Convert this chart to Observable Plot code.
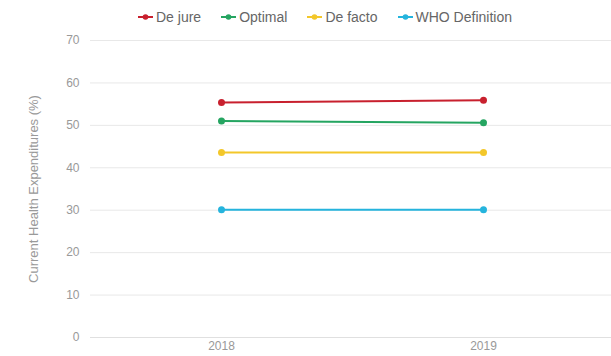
<!DOCTYPE html>
<html>
<head>
<meta charset="utf-8">
<script src="https://cdn.jsdelivr.net/npm/d3@7"></script>
<script src="https://cdn.jsdelivr.net/npm/@observablehq/plot@0.6"></script>
<style>
  html, body { margin: 0; padding: 0; background: #fff; overflow: hidden; }
  body { width: 611px; height: 356px; font-family: "Liberation Sans", Arial, sans-serif; }
  #legend { height: 30px; display: flex; align-items: center; padding-left: 138px; padding-top: 4px; box-sizing: border-box; gap: 20px; font-size: 14px; color: #666; }
  .item { display: flex; align-items: center; gap: 3px; }
  .item svg { display: block; }
</style>
</head>
<body>
<div id="legend"></div>
<div id="chart"></div>
<script>
// Share of current health expenditures under each definition
const years = ["2018", "2019"];
const seriesNames = ["De jure", "Optimal", "De facto", "WHO Definition"];
const seriesColors = ["#c8202e", "#25a561", "#f3c72a", "#25b4dd"];
const deJure = [55.4, 55.9];
const optimal = [51.0, 50.6];
const deFacto = [43.6, 43.6];
const whoDefinition = [30.1, 30.1];
const yTicks = [0, 10, 20, 30, 40, 50, 60, 70];
const yLabel = "Current Health Expenditures (%)";

const seriesValues = [deJure, optimal, deFacto, whoDefinition];
const data = seriesNames.flatMap((name, i) =>
  years.map((year, j) => ({series: name, year, value: seriesValues[i][j]}))
);

// Legend: line-and-dot marker followed by the series name
const legend = document.getElementById("legend");
seriesNames.forEach((name, i) => {
  const item = document.createElement("div");
  item.className = "item";
  item.innerHTML = `<svg width="15" height="8"><line x1="0" y1="4" x2="15" y2="4" stroke="${seriesColors[i]}" stroke-width="2"/><circle cx="7.5" cy="4" r="2.8" fill="${seriesColors[i]}"/></svg><span>${name}</span>`;
  legend.appendChild(item);
});

const chart = Plot.plot({
  width: 611,
  height: 326,
  marginTop: 10,
  marginBottom: 19,
  marginLeft: 90,
  marginRight: -3,
  style: {fontFamily: "Liberation Sans, Arial, sans-serif", fontSize: "12px", color: "#999", overflow: "visible"},
  x: {type: "point", domain: years, padding: 0.5},
  y: {domain: [0, 70]},
  color: {domain: seriesNames, range: seriesColors},
  marks: [
    Plot.gridY(yTicks, {stroke: "#e8e8e8", strokeOpacity: 1}),
    Plot.ruleY([0], {stroke: "#e0e0e0"}),
    Plot.axisY(yTicks, {tickSize: 0, tickPadding: 11, fill: "#999", label: null}),
    Plot.axisY([], {label: yLabel, labelAnchor: "center", labelArrow: false, labelOffset: 62, fontSize: 13, fill: "#999"}),
    Plot.axisX(years, {tickSize: 0, tickPadding: 4, fill: "#999", fontSize: 12, label: null}),
    Plot.line(data, {x: "year", y: "value", z: "series", stroke: "series", strokeWidth: 2}),
    Plot.dot(data, {x: "year", y: "value", fill: "series", r: 3.5})
  ]
});
document.getElementById("chart").appendChild(chart);
</script>
</body>
</html>
